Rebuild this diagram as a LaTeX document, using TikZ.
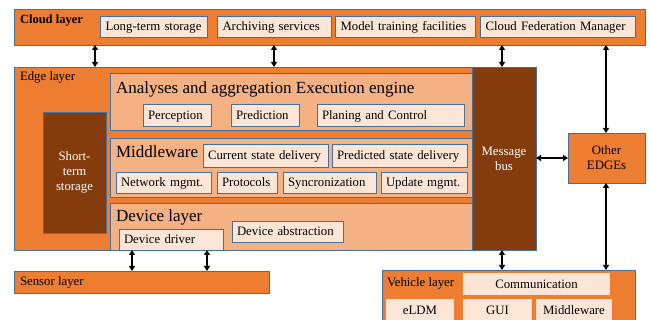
\documentclass[tikz,border=0pt]{standalone}
\usepackage{fontspec}
\setmainfont{Liberation Serif}
\usetikzlibrary{arrows.meta}
\definecolor{org}{HTML}{ED7D31}
\definecolor{lorg}{HTML}{F4B183}
\definecolor{pale}{HTML}{FBE5D6}
\definecolor{brn}{HTML}{843C0C}
\definecolor{bord}{HTML}{41719C}
\begin{document}
\begin{tikzpicture}[x=1pt,y=-1pt,
 every node/.style={inner sep=0pt, outer sep=0pt, font=\fontsize{12.8}{15}\selectfont},
 blk/.style={draw=bord, line width=0.8pt, anchor=north west},
 layer/.style={blk, fill=org},
 group/.style={blk, fill=lorg},
 item/.style={blk, fill=pale, text height=10.5pt, text depth=2pt, inner xsep=5pt, align=left},
 dark/.style={blk, fill=brn, text=white, align=center},
 bare/.style={anchor=north west, fill=pale, text height=10.5pt, text depth=2pt},
 lbl/.style={anchor=base west},
 head/.style={anchor=base west, font=\fontsize{17}{20}\selectfont},
 arr/.style={{Triangle[width=6pt,length=5pt]}-{Triangle[width=6pt,length=5pt]}, line width=1.3pt, black},
]
\clip (0,0) rectangle (651,320);
\fill[white] (0,0) rectangle (651,320);

% Cloud layer
\node[layer, minimum width=631, minimum height=36] (cloud) at (14,9) {};
\node[lbl, font=\fontsize{12.5}{15}\selectfont\bfseries] (cloudl) at (20,24) {Cloud layer};
\node[item, minimum height=21, text width=96pt, inner xsep=5.5pt] (lts) at (100,16) {Long-term storage};
\node[item, minimum height=21, text width=103pt, inner xsep=5.5pt] (arch) at (217,16) {Archiving services};
\node[item, minimum height=21, text width=129pt, inner xsep=5.5pt] (model) at (335,16) {Model training facilities};
\node[item, minimum height=21, text width=144pt, inner xsep=5.5pt] (cfm) at (480,16) {Cloud Federation Manager};

% Edge layer
\node[layer, minimum width=522, minimum height=183] (edge) at (14,67) {};
\node[lbl] (edgel) at (20,81) {Edge layer};
\node[dark, minimum width=63, minimum height=121] (sts) at (43,112) {Short-\\term\\storage};

\node[group, minimum width=362, minimum height=57] (ana) at (110,73) {};
\node[head] (anal) at (116,93.5) {Analyses and aggregation Execution engine};
\node[item, minimum height=22, text width=58pt] (perc) at (143,104) {Perception};
\node[item, minimum height=22, text width=58pt] (pred) at (231,104) {Prediction};
\node[item, minimum height=22, text width=137pt] (plan) at (317,104) {Planing and Control};

\node[group, minimum width=362, minimum height=59] (mid) at (110,138) {};
\node[head] (midl) at (116,158) {Middleware};
\node[item, minimum height=23, text width=115pt] (csd) at (203,144) {Current state delivery};
\node[item, minimum height=23, text width=125pt] (psd) at (332,144) {Predicted state delivery};
\node[item, minimum height=21, text width=85pt] (net) at (116,172) {Network mgmt.};
\node[item, minimum height=21, text width=50pt] (prot) at (217,172) {Protocols};
\node[item, minimum height=21, text width=83pt] (sync) at (283,172) {Syncronization};
\node[item, minimum height=21, text width=76pt] (upd) at (381,172) {Update mgmt.};

\node[group, minimum width=362, minimum height=47] (dev) at (110,203) {};
\node[head] (devl) at (116,221.5) {Device layer};
\node[item, minimum height=21, text width=94pt] (drv) at (119,229) {Device driver};
\node[item, minimum height=21, text width=101pt] (abs) at (232,221) {Device abstraction};

\node[dark, minimum width=64, minimum height=183] (bus) at (472,67) {Message\\bus};

% Other EDGEs
\node[layer, minimum width=77, minimum height=50, align=center] (other) at (568,133) {Other\\EDGEs};

% Sensor layer
\node[layer, minimum width=255, minimum height=22] (sensor) at (14,271) {};
\node[lbl] (sensorl) at (20,286) {Sensor layer};

% Vehicle layer
\node[layer, minimum width=253, minimum height=60] (veh) at (382,270) {};
\node[lbl] (vehl) at (387,287) {Vehicle layer};
\node[bare, minimum width=147, minimum height=22] (comm) at (463,273) {Communication};
\node[bare, minimum width=68, minimum height=22] (eldm) at (386,299) {eLDM};
\node[bare, minimum width=69, minimum height=22] (gui) at (463,299) {GUI};
\node[bare, minimum width=76, minimum height=22] (vmid) at (536,299) {Middleware};

% Connectors
\coordinate (c1) at (95,0);
\coordinate (c2) at (274,0);
\coordinate (c3) at (502,0);
\coordinate (c4) at (606,0);
\coordinate (s1) at (132,0);
\coordinate (s2) at (207,0);
\draw[arr] (cloud.south -| c1) -- (edge.north -| c1);
\draw[arr] (cloud.south -| c2) -- (edge.north -| c2);
\draw[arr] (cloud.south -| c3) -- (bus.north -| c3);
\draw[arr] (cloud.south -| c4) -- (other.north -| c4);
\draw[arr] (bus.east |- other.west) -- (other.west);
\draw[arr] (other.south -| c4) -- (veh.north -| c4);
\draw[arr] (bus.south -| c3) -- (veh.north -| c3);
\draw[arr] (edge.south -| s1) -- (sensor.north -| s1);
\draw[arr] (edge.south -| s2) -- (sensor.north -| s2);
\end{tikzpicture}
\end{document}
